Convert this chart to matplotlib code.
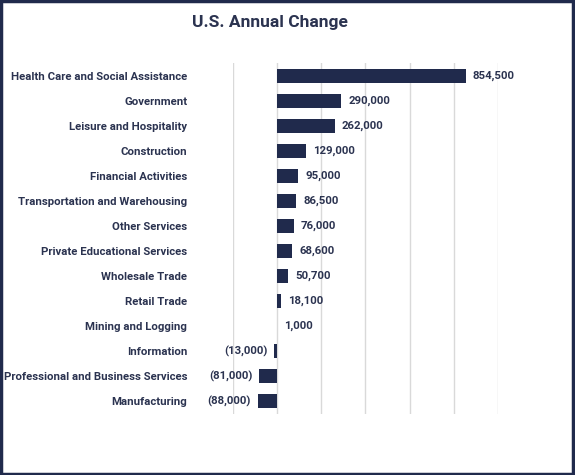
import matplotlib.pyplot as plt
from matplotlib.patches import Rectangle

# data, top to bottom
industries = [
    "Health Care and Social Assistance",
    "Government",
    "Leisure and Hospitality",
    "Construction",
    "Financial Activities",
    "Transportation and Warehousing",
    "Other Services",
    "Private Educational Services",
    "Wholesale Trade",
    "Retail Trade",
    "Mining and Logging",
    "Information",
    "Professional and Business Services",
    "Manufacturing",
]
change = [854500, 290000, 262000, 129000, 95000, 86500, 76000,
          68600, 50700, 18100, 1000, -13000, -81000, -88000]

navy = "#202a4c"
txt = "#2b3350"
plt.rcParams['font.family'] = ['Roboto', 'DejaVu Sans']

fig = plt.figure(figsize=(5.75, 4.75), dpi=100)
ax = fig.add_axes([233/575, 1-414/475, (498-233)/575, 351/475])

ypos = list(range(len(industries)))
ax.barh(ypos, change, height=0.56, color=navy, zorder=3)

for y, v in zip(ypos, change):
    if v >= 0:
        s = f"{v:,}"
        ax.annotate(s, (v, y), xytext=(5, 0), textcoords="offset points",
                    ha="left", va="center", fontsize=8.2, fontweight="bold", color=txt)
    else:
        s = f"({-v:,})"
        ax.annotate(s, (v, y), xytext=(-5, 0), textcoords="offset points",
                    ha="right", va="center", fontsize=8.2, fontweight="bold", color=txt)

ax.set_xlim(-200000, 1000000)
ax.set_ylim(len(industries) - 0.5, -0.5)
ax.set_xticks(range(-200000, 1000001, 200000))
ax.set_xticklabels([])
ax.tick_params(axis="x", length=0)
ax.set_yticks(ypos)
ax.set_yticklabels(industries, fontsize=8.2, fontweight="bold", color=txt)
ax.tick_params(axis="y", length=0, pad=33)
ax.grid(axis="x", color="#d9d9d9", linewidth=1, zorder=0)
for sp in ax.spines.values():
    sp.set_visible(False)

fig.text(270/575, 1-23/475, "U.S. Annual Change", ha="center", va="center",
         fontsize=12.5, fontweight="bold", color=txt)

# frame around the figure
fig.patches.append(Rectangle((0.002, 0.003), 0.994, 0.994, transform=fig.transFigure,
                             fill=False, edgecolor=navy, linewidth=2.5))

fig.savefig("out.png", dpi=100)
